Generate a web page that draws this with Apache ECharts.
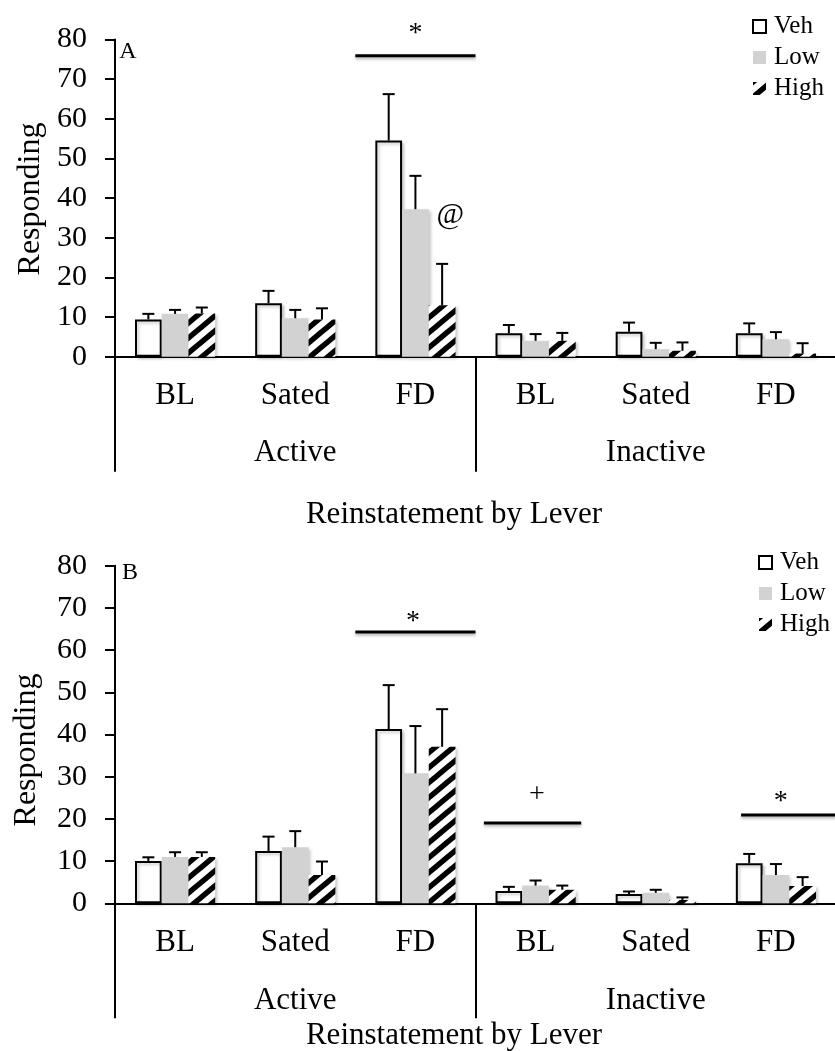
<!DOCTYPE html>
<html>
<head>
<meta charset="utf-8">
<script src="https://cdn.jsdelivr.net/npm/echarts@6/dist/echarts.min.js"></script>
<style>
  html, body { margin: 0; padding: 0; background: #fff; }
  #chart { width: 835px; height: 1051px; }
</style>
</head>
<body>
<div id="chart"></div>
<script>
// ---------- data ----------
const categories = ['BL', 'Sated', 'FD', 'BL', 'Sated', 'FD'];
const groups = ['Active', 'Inactive'];
const seriesNames = ['Veh', 'Low', 'High'];
const yMin = 0, yMax = 80, yStep = 10;
const yAxisTitle = 'Responding';
const xAxisTitle = 'Reinstatement by Lever';

// Panel A
const vehA = [9.4, 13.5, 54.5, 5.9, 6.3, 5.9];
const lowA = [10.8, 9.7, 37.2, 4.0, 1.9, 4.4];
const highA = [10.9, 9.4, 13.0, 4.0, 1.5, 0.8];
const vehAErr = [1.4, 3.1, 11.7, 2.1, 2.3, 2.5];
const lowAErr = [1.0, 2.1, 8.4, 1.7, 1.6, 1.8];
const highAErr = [1.5, 2.8, 10.4, 2.0, 2.1, 2.6];

// Panel B
const vehB = [10.0, 12.4, 41.3, 2.9, 2.2, 9.5];
const lowB = [11.0, 13.3, 30.8, 4.2, 2.5, 6.7];
const highB = [11.0, 6.7, 37.1, 3.2, 0.8, 4.1];
const vehBErr = [0.9, 3.4, 10.4, 1.0, 0.6, 2.2];
const lowBErr = [1.1, 3.8, 11.2, 1.2, 0.7, 2.6];
const highBErr = [1.1, 3.2, 8.9, 1.0, 0.6, 2.1];

// significance markers: [fromCategoryPos, toCategoryPos, yValue]
const sigLinesA = [[1.5, 2.5, 75.9]];
const sigLabelsA = [[2.0, 81.4, '*'], [2.29, 35.7, '@']];
const sigLinesB = [[1.5, 2.5, 64.3], [2.57, 3.38, 19.0], [4.71, 5.5, 20.9]];
const sigLabelsB = [[1.98, 66.8, '*'], [3.01, 25.8, '+'], [5.04, 24.1, '*']];

// ---------- styles ----------
const FONT = '"Liberation Serif", "Times New Roman", serif';
const CAT_GAP = 0.333;

function stripePattern() {
  const w = 18, h = 15;
  const c = document.createElement('canvas');
  c.width = w; c.height = h;
  const ctx = c.getContext('2d');
  ctx.fillStyle = '#fff';
  ctx.fillRect(0, 0, w, h);
  ctx.strokeStyle = '#000';
  ctx.lineWidth = 5.5;
  for (const x0 of [-w, 0, w]) {
    ctx.beginPath();
    ctx.moveTo(x0 - w, 2 * h);
    ctx.lineTo(x0 + 2 * w, -h);
    ctx.stroke();
  }
  return c;
}
const stripes = stripePattern();

const shadow = { shadowColor: 'rgba(0,0,0,0.22)', shadowBlur: 3, shadowOffsetX: 2, shadowOffsetY: 2 };
const barStyles = [
  Object.assign({ color: '#ffffff', borderColor: '#000', borderWidth: 2 }, shadow),
  Object.assign({ color: '#d2d2d2' }, shadow),
  Object.assign({ color: { image: stripes, repeat: 'repeat' } }, shadow)
];

function barSeries(name, data, xi, yi, k) {
  return {
    name: name, type: 'bar', xAxisIndex: xi, yAxisIndex: yi,
    data: data, barGap: '0%', barCategoryGap: (CAT_GAP * 100) + '%',
    itemStyle: barStyles[k], emphasis: { disabled: true }, silent: true, z: 2
  };
}

function errData(means, errs) {
  const out = [];
  means.forEach((arr, s) => arr.forEach((v, c) => out.push([c, s, v, errs[s][c]])));
  return out;
}

function errSeries(data, xi, yi) {
  return {
    type: 'custom', xAxisIndex: xi, yAxisIndex: yi, silent: true, z: 4,
    encode: { x: 0, y: 2 },
    data: data,
    renderItem: function (params, api) {
      const c = api.value(0), s = api.value(1), v = api.value(2), e = api.value(3);
      const bw = api.size([1, 0])[0];
      const barW = bw * (1 - CAT_GAP) / 3;
      const cx = api.coord([c, 0])[0] + (s - 1) * barW;
      const y1 = api.coord([c, v])[1];
      const y2 = api.coord([c, v + e])[1];
      const st = { stroke: '#000', lineWidth: 2 };
      return {
        type: 'group', children: [
          { type: 'line', shape: { x1: cx, y1: y1, x2: cx, y2: y2 }, style: st },
          { type: 'line', shape: { x1: cx - 6, y1: y2, x2: cx + 6, y2: y2 }, style: st }
        ]
      };
    }
  };
}

function sigLineSeries(data, xi, yi) {
  return {
    type: 'custom', xAxisIndex: xi, yAxisIndex: yi, silent: true, z: 5,
    encode: { x: 0, y: 2 }, data: data,
    renderItem: function (params, api) {
      const bw = api.size([1, 0])[0];
      const x0 = api.coord([0, 0])[0];
      const y = api.coord([0, api.value(2)])[1];
      return {
        type: 'line',
        shape: { x1: x0 + api.value(0) * bw, y1: y, x2: x0 + api.value(1) * bw, y2: y },
        style: { stroke: '#000', lineWidth: 3, shadowColor: 'rgba(0,0,0,0.3)', shadowBlur: 3, shadowOffsetY: 2 }
      };
    }
  };
}

function sigLabelSeries(data, xi, yi) {
  return {
    type: 'custom', xAxisIndex: xi, yAxisIndex: yi, silent: true, z: 5,
    encode: { x: 0, y: 1 }, data: data,
    renderItem: function (params, api) {
      const bw = api.size([1, 0])[0];
      const x0 = api.coord([0, 0])[0];
      const y = api.coord([0, api.value(1)])[1];
      const t = data[params.dataIndex][2];
      const size = t === '@' ? 30 : 28;
      return {
        type: 'text', x: x0 + api.value(0) * bw, y: y,
        style: { text: t, font: size + 'px ' + FONT, fill: '#000', align: 'center', verticalAlign: 'middle' }
      };
    }
  };
}

const axisBlack = { color: '#000', width: 2 };

function yAxis(gi) {
  return {
    type: 'value', gridIndex: gi, min: yMin, max: yMax, interval: yStep,
    axisLine: { show: true, lineStyle: axisBlack },
    axisTick: { show: true, length: 10, lineStyle: axisBlack },
    splitLine: { show: false },
    axisLabel: { color: '#000', fontFamily: FONT, fontSize: 30, margin: 28 }
  };
}
function catAxis(gi) {
  return {
    type: 'category', gridIndex: gi, data: categories, position: 'bottom',
    axisLine: { show: true, lineStyle: axisBlack },
    axisTick: { show: false },
    axisLabel: { color: '#000', fontFamily: FONT, fontSize: 31, margin: 24, interval: 0 }
  };
}
function groupAxis(gi, margin) {
  return {
    type: 'category', gridIndex: gi, data: groups, position: 'bottom',
    axisLine: { show: false },
    axisTick: { show: true, length: 115, interval: 0, lineStyle: axisBlack },
    axisLabel: { color: '#000', fontFamily: FONT, fontSize: 31, margin: margin, interval: 0 }
  };
}

function legend(left, top) {
  return {
    left: left, top: top, orient: 'vertical', padding: 0, itemGap: 6,
    itemWidth: 13, itemHeight: 13, icon: 'rect', data: seriesNames,
    selectedMode: false,
    itemStyle: { shadowBlur: 0, shadowOffsetX: 0, shadowOffsetY: 0, shadowColor: 'transparent' },
    textStyle: { color: '#000', fontFamily: FONT, fontSize: 25, lineHeight: 25, padding: [0, 0, 0, 3] }
  };
}

function txt(x, y, text, size, rot) {
  return {
    type: 'text', x: x, y: y, rotation: rot || 0, silent: true,
    style: { text: text, font: size + 'px ' + FONT, fill: '#000', align: 'center', verticalAlign: 'middle' }
  };
}

const chart = echarts.init(document.getElementById('chart'), null, { renderer: 'canvas' });
chart.setOption({
  animation: false,
  backgroundColor: '#fff',
  grid: [
    { left: 115, width: 721, top: 39.4, height: 317.3, containLabel: false, outerBoundsMode: 'none' },
    { left: 115, width: 721, top: 565.7, height: 337.6, containLabel: false, outerBoundsMode: 'none' }
  ],
  xAxis: [catAxis(0), groupAxis(0, 81), catAxis(1), groupAxis(1, 82)],
  yAxis: [yAxis(0), yAxis(1)],
  legend: [legend(752, 14), legend(758, 550)],
  graphic: [
    txt(128, 52, 'A', 24),
    txt(130, 573, 'B', 24),
    txt(31, 199, yAxisTitle, 32, Math.PI / 2),
    txt(27, 750, yAxisTitle, 32, Math.PI / 2),
    txt(454, 515, xAxisTitle, 31),
    txt(454, 1036, xAxisTitle, 31)
  ],
  series: [
    barSeries(seriesNames[0], vehA, 0, 0, 0),
    barSeries(seriesNames[1], lowA, 0, 0, 1),
    barSeries(seriesNames[2], highA, 0, 0, 2),
    errSeries(errData([vehA, lowA, highA], [vehAErr, lowAErr, highAErr]), 0, 0),
    sigLineSeries(sigLinesA, 0, 0),
    sigLabelSeries(sigLabelsA, 0, 0),
    barSeries(seriesNames[0], vehB, 2, 1, 0),
    barSeries(seriesNames[1], lowB, 2, 1, 1),
    barSeries(seriesNames[2], highB, 2, 1, 2),
    errSeries(errData([vehB, lowB, highB], [vehBErr, lowBErr, highBErr]), 2, 1),
    sigLineSeries(sigLinesB, 2, 1),
    sigLabelSeries(sigLabelsB, 2, 1)
  ]
});
</script>
</body>
</html>
